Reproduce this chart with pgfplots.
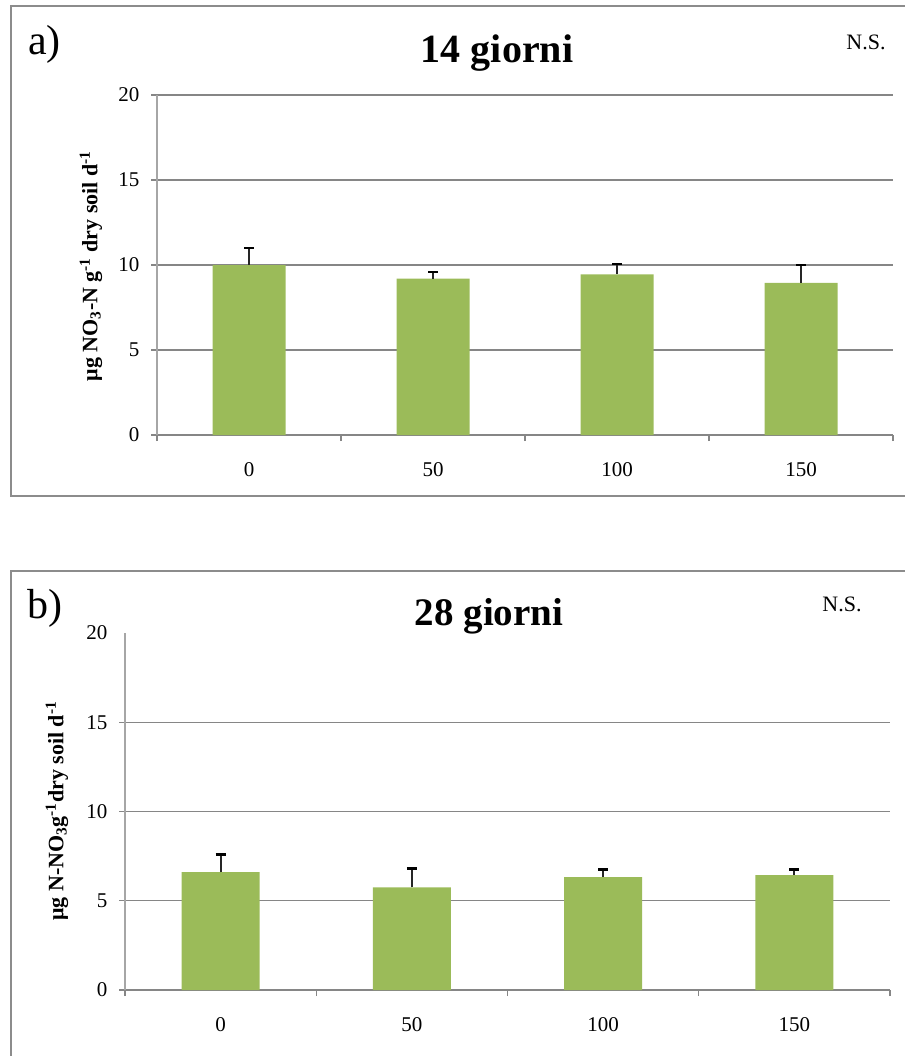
\documentclass[border=0pt]{standalone}
\usepackage{fontspec}
\setmainfont{Liberation Serif}
\usepackage{pgfplots}
\pgfplotsset{compat=1.18}
\definecolor{barg}{HTML}{9BBB59}
\definecolor{gridc}{HTML}{868686}
\definecolor{yax}{HTML}{A6A6A6}
\definecolor{frm}{HTML}{8C8C8C}
\pgfplotsset{exstyle/.style={
  scale only axis, ymin=0, ymax=20, xmin=-0.5, xmax=3.5,
  axis x line*=bottom, axis y line*=left,
  axis line style={-},
  x axis line style={draw=gridc, line width=1.3pt},
  y axis line style={draw=yax, line width=1.3pt},
  ymajorgrids, major grid style={draw=gridc, line width=1.3pt},
  tick align=outside, major tick length=6pt,
  ytick style={draw=gridc, line width=1.3pt},
  xtick={0,1,2,3}, xticklabels={0,50,100,150},
  xtick style={draw=none},
  extra x ticks={-0.5,0.5,1.5,2.5,3.5},
  extra x tick labels={,,,,},
  extra x tick style={grid=none, xtick style={draw=gridc, line width=1.3pt}},
  ticklabel style={font=\fontsize{21}{21}\selectfont},
  /pgf/number format/assume math mode=true,
  xticklabel style={yshift=-18pt},
  yticklabel style={xshift=-8pt},
  ybar,
}}
\pgfplotstableread{
x y e
0 10.00 1.00
1 9.20 0.40
2 9.45 0.62
3 8.95 1.05
}\dataA
\pgfplotstableread{
x y e
0 6.60 1.00
1 5.75 1.05
2 6.33 0.43
3 6.44 0.32
}\dataB
\begin{document}
\begin{tikzpicture}[x=1pt,y=1pt]
\useasboundingbox (0,0) rectangle (904,-1056);
\draw[frm, line width=2pt] (11,-6) rectangle (930,-496);
\draw[frm, line width=2pt] (11,-571) rectangle (930,-1090);
% panel a
\begin{axis}[exstyle, at={(157pt,-435pt)}, anchor=south west,
  width=736pt, height=340pt, ytick={0,5,10,15,20}]
\addplot[fill=barg, draw=none, bar width=73pt,
  error bars/.cd, y dir=plus, y explicit,
  error bar style={line width=2pt, black!85},
  error mark=-, error mark options={rotate=90, line width=2.5pt, mark size=5pt, black}]
  table[x=x, y=y, y error=e] {\dataA};
\end{axis}
% panel b
\begin{axis}[exstyle, at={(125pt,-990pt)}, anchor=south west,
  width=765pt, height=357pt, ytick={0,5,10,15},
  extra y ticks={20}, extra y tick style={grid=none, ytick style={draw=none}}]
\addplot[fill=barg, draw=none, bar width=78pt,
  error bars/.cd, y dir=plus, y explicit,
  error bar style={line width=2pt, black!85},
  error mark=-, error mark options={rotate=90, line width=2.5pt, mark size=5pt, black}]
  table[x=x, y=y, y error=e] {\dataB};
\end{axis}
% texts
\node[font=\fontsize{42}{42}\selectfont] at (44.5,-44) {a)};
\node[font=\fontsize{42}{42}\selectfont] at (44.5,-608) {b)};
\node[font=\fontsize{40}{40}\selectfont\bfseries, anchor=base] at (497,-63) {14 giorni};
\node[font=\fontsize{39}{39}\selectfont\bfseries, anchor=base] at (489,-625) {28 giorni};
\node[font=\fontsize{22}{22}\selectfont, anchor=base] at (866,-50) {N.S.};
\node[font=\fontsize{22}{22}\selectfont, anchor=base] at (842,-611) {N.S.};
\node[font=\fontsize{22}{22}\selectfont\bfseries, rotate=90] at (91,-266)
  {μg NO\textsubscript{3}-N g\textsuperscript{-1} dry soil d\textsuperscript{-1}};
\node[font=\fontsize{22}{22}\selectfont\bfseries, rotate=90] at (57,-811)
  {μg N-NO\textsubscript{3}g\textsuperscript{-1}dry soil d\textsuperscript{-1}};
\end{tikzpicture}
\end{document}
